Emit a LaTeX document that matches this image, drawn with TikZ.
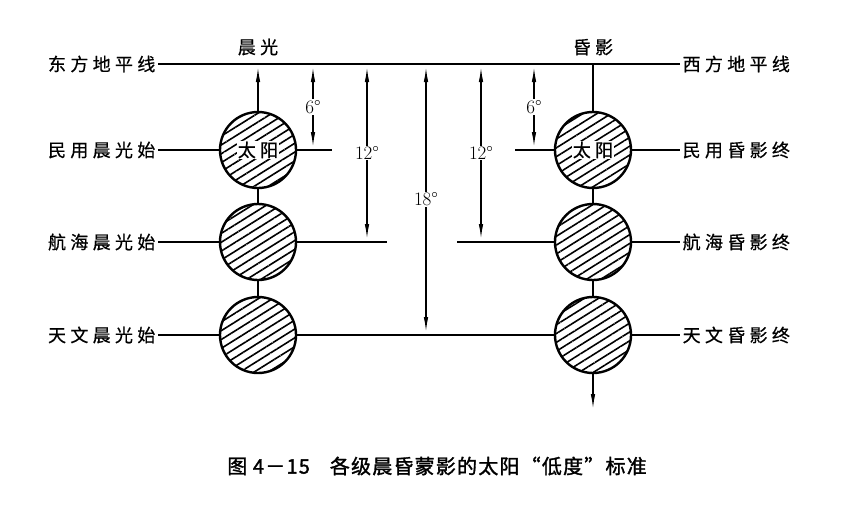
\documentclass[tikz,border=0pt]{standalone}
\usepackage{fontspec}
\usepackage{xcolor}
\usepackage{tikz}
\usetikzlibrary{positioning,arrows.meta,patterns.meta}
\newfontfamily\cjk[LetterSpace=24,FakeBold=0.6]{Noto Sans CJK SC}
\newfontfamily\capfont[LetterSpace=6,FakeBold=1.5]{Noto Sans CJK SC}

\begin{document}
\begin{tikzpicture}[x=1pt,y=-1pt,line width=1.3pt,
  sun/.style={circle,draw,line width=2.4pt,minimum size=76pt,inner sep=0pt,
    pattern={Lines[angle=32,distance=7.5pt,line width=1.6pt]}},
  lbl/.style={font=\cjk\fontsize{18}{20}\selectfont,inner sep=2pt},
  deg/.style={font=\fontsize{19}{21}\selectfont,fill=white,inner sep=1pt},
  tip/.style={-{Latex[length=15pt,width=4.5pt]},shorten >=3pt},
  dim/.style={{Latex[length=15pt,width=4.5pt]}-{Latex[length=15pt,width=4.5pt]},
    shorten <=3pt,shorten >=3pt}]
\useasboundingbox (0,0) rectangle (859,522);
\node[lbl,anchor=east] (ehor) at (158,64) {东方地平线};
\node[lbl,anchor=west] (whor) at (680,64) {西方地平线};
\node[lbl,anchor=east] (lc) at (158,150) {民用晨光始};
\node[lbl,anchor=east] (ln) at (158,242) {航海晨光始};
\node[lbl,anchor=east] (la) at (158,335) {天文晨光始};
\node[lbl,anchor=west] (rc) at (680,150) {民用昏影终};
\node[lbl,anchor=west] (rn) at (680,242) {航海昏影终};
\node[lbl,anchor=west] (ra) at (680,335) {天文昏影终};
\node[sun] (l1) at (258,150) {};
\node[sun] (l2) at (258,242) {};
\node[sun] (l3) at (258,335) {};
\node[sun] (r1) at (593,150) {};
\node[sun] (r2) at (593,242) {};
\node[sun] (r3) at (593,335) {};
\node[lbl,fill=white,inner sep=0.5pt] (lsun) at (l1) {太阳};
\node[lbl,fill=white,inner sep=0.5pt] (rsun) at (r1) {太阳};
\coordinate (hl) at (258,64);
\coordinate (hr) at (593,64);
\node[lbl,above=6pt of hl] (dawn) {晨光};
\node[lbl,above=6pt of hr] (dusk) {昏影};
\coordinate (rend) at (593,412);
\coordinate (d6l) at (313,64);  \coordinate (e6l) at (313,150);  \coordinate (s6l) at (332,150);
\coordinate (d12l) at (367,64); \coordinate (e12l) at (367,242); \coordinate (s12l) at (387,242);
\coordinate (d18) at (426,64);  \coordinate (e18) at (426,335);
\coordinate (d12r) at (481,64); \coordinate (e12r) at (481,242); \coordinate (s12r) at (457,242);
\coordinate (d6r) at (534,64);  \coordinate (e6r) at (534,150);  \coordinate (s6r) at (515,150);
\draw (ehor) -- (whor);
\draw (lc) -- (l1);
\draw (ln) -- (l2);
\draw (la) -- (l3);
\draw (r1) -- (rc);
\draw (r2) -- (rn);
\draw (r3) -- (ra);
\draw[tip] (l1) -- (hl);
\draw (r1) -- (hr);
\draw (l1) -- (l2);
\draw (l2) -- (l3);
\draw (r1) -- (r2);
\draw (r2) -- (r3);
\draw[tip] (r3) -- (rend);
\draw (l1) -- (s6l);
\draw (l2) -- (s12l);
\draw (l3) -- (r3);
\draw (s12r) -- (r2);
\draw (s6r) -- (r1);
\draw[dim] (d6l) -- node[deg] {6°} (e6l);
\draw[dim] (d12l) -- node[deg] {12°} (e12l);
\draw[dim] (d18) -- node[deg] {18°} (e18);
\draw[dim] (d12r) -- node[deg] {12°} (e12r);
\draw[dim] (d6r) -- node[deg] {6°} (e6r);
\node[font=\capfont\fontsize{20}{22}\selectfont] (cap) at (437,466) {图 4－15\quad 各级晨昏蒙影的太阳“低度”标准};
\end{tikzpicture}
\end{document}
